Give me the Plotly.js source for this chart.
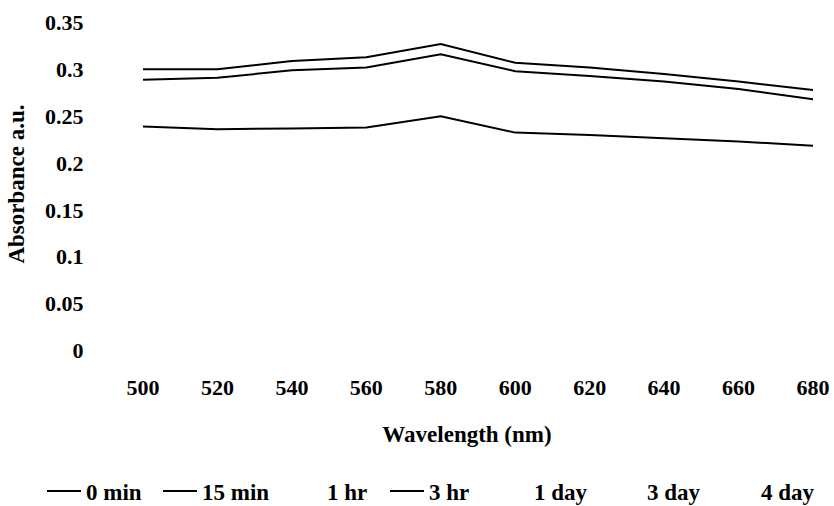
<!DOCTYPE html>
<html>
<head>
<meta charset="utf-8">
<script src="https://cdn.plot.ly/plotly-3.0.1.min.js"></script>
<style>html,body{margin:0;padding:0;background:#fff;}#chart{width:834px;height:506px;}</style>
</head>
<body>
<div id="chart"></div>
<script>
const wavelengths = [500, 520, 540, 560, 580, 600, 620, 640, 660, 680];
const seriesNames = ["0 min", "15 min", "1 hr", "3 hr", "1 day", "3 day", "4 day"];
const min0  = [0.300, 0.300, 0.309, 0.313, 0.327, 0.307, 0.302, 0.295, 0.287, 0.278];
const min15 = [0.289, 0.291, 0.299, 0.302, 0.316, 0.298, 0.293, 0.287, 0.279, 0.268];
const hr1   = [null, null, null, null, null, null, null, null, null, null];
const hr3   = [0.239, 0.236, 0.237, 0.238, 0.250, 0.2325, 0.230, 0.2265, 0.223, 0.2186];
const day1  = [null, null, null, null, null, null, null, null, null, null];
const day3  = [null, null, null, null, null, null, null, null, null, null];
const day4  = [null, null, null, null, null, null, null, null, null, null];
const yTickVals = [0, 0.05, 0.1, 0.15, 0.2, 0.25, 0.3, 0.35];
const yTickText = ["0", "0.05", "0.1", "0.15", "0.2", "0.25", "0.3", "0.35"];

const seriesValues = [min0, min15, hr1, hr3, day1, day3, day4];
const seriesColors = ["#000", "#000", "#fff", "#000", "#fff", "#fff", "#fff"];
const legendLineStart = [47, 163, 288, 390, 495, 608, 722];

const FONT = "Liberation Serif, Times New Roman, serif";
const traces = seriesNames.map((n, i) => ({
  type: "scatter", mode: "lines", name: n,
  x: wavelengths,
  y: seriesValues[i],
  line: {color: seriesColors[i], width: 2},
  showlegend: true,
  legend: i === 0 ? "legend" : "legend" + (i + 1),
  hoverinfo: "skip"
}));

const layout = {
  width: 834, height: 506,
  paper_bgcolor: "#fff", plot_bgcolor: "#fff",
  margin: {l: 110, r: 10, t: 12, b: 150},
  font: {family: FONT, color: "#000", size: 22, weight: "bold"},
  xaxis: {
    range: [491.13, 682.96], tickvals: wavelengths, ticktext: wavelengths.map(String),
    showgrid: false, zeroline: false, showline: false,
    ticks: "outside", ticklen: 12, tickcolor: "rgba(0,0,0,0)",
    tickfont: {family: FONT, size: 22, weight: "bold"},
    title: {text: "Wavelength (nm)", standoff: 26, font: {family: FONT, size: 23, weight: "bold"}}
  },
  yaxis: {
    range: [-0.00587, 0.3612], tickvals: yTickVals, ticktext: yTickText,
    showgrid: false, zeroline: false, showline: false,
    ticks: "outside", ticklen: 21, tickcolor: "rgba(0,0,0,0)",
    tickfont: {family: FONT, size: 22, weight: "bold"},
    title: {text: "Absorbance a.u.", standoff: 14, font: {family: FONT, size: 23, weight: "bold"}}
  },
  showlegend: true
};
legendLineStart.forEach((px, i) => {
  const key = i === 0 ? "legend" : "legend" + (i + 1);
  layout[key] = {
    xref: "container", yref: "container",
    x: (px - 5) / 834, y: 1 - 491 / 506, xanchor: "left", yanchor: "middle",
    orientation: "h", bgcolor: "rgba(0,0,0,0)", borderwidth: 0,
    itemwidth: 34,
    font: {family: FONT, size: 23, weight: "bold", color: "#000"}
  };
});

Plotly.newPlot("chart", traces, layout, {staticPlot: true, displayModeBar: false});
</script>
</body>
</html>
